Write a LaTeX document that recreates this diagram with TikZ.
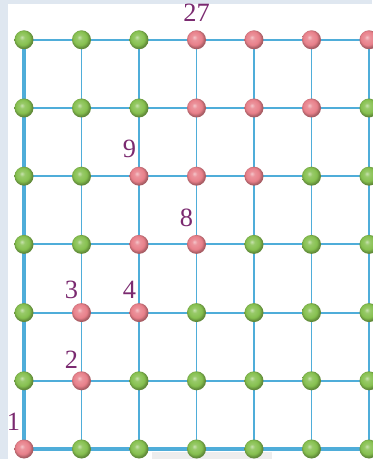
\documentclass[tikz,border=0pt]{standalone}
\usepackage{fontspec}
\setmainfont{Liberation Serif}
\usetikzlibrary{positioning}

\definecolor{gridblue}{HTML}{4FADD9}
\definecolor{ballgreen}{HTML}{86C04F}
\definecolor{ballred}{HTML}{E8808A}
\definecolor{numpurple}{HTML}{7B2A70}
\definecolor{bgray}{HTML}{DFE7F0}
\definecolor{smudge}{HTML}{EDEDED}
\colorlet{ballc}{ballgreen}

\pgfdeclareradialshading[ballc]{softball}{\pgfqpoint{-6bp}{7bp}}{%
  color(0bp)=(ballc!45!white); color(7bp)=(ballc!85!white);
  color(18bp)=(ballc); color(25bp)=(ballc!72!black);
  color(50bp)=(ballc!60!black)}

\begin{document}
\begin{tikzpicture}[
  x=1.15cm, y=1.364cm,
  font=\fontsize{15}{18}\selectfont,
  ball/.style  = {circle, inner sep=0pt, minimum size=0.38cm, shading=softball},
  lnk/.style   = {gridblue, line width=1.1pt},
  rim/.style   = {gridblue, line width=1.8pt},
  num/.style   = {text=numpurple, inner sep=0pt}
]

% frame and page
\useasboundingbox (-0.4174,-0.1466) rectangle (6.0522,6.5836);
\fill[bgray] (-0.4174,-0.1466) rectangle (6.0522,6.5836);
\fill[white] (-0.278,-0.1466) rectangle (6.0522,6.525);
\fill[smudge] (2.226,-0.1466) rectangle (4.313,-0.044);

% lattice points
\foreach \r in {0,...,6}
  \foreach \c in {0,...,6}
    \coordinate (p-\c-\r) at (\c,\r);

% grid lines
\foreach \r in {1,...,6}
  \draw[lnk] (p-0-\r) -- (p-6-\r);
\foreach \c in {1,...,6}
  \draw[lnk] (p-\c-0) -- (p-\c-6);
\draw[rim] (p-0-6) -- (p-0-0) -- (p-6-0);

% balls: red between lo and hi on each row
\foreach \r/\lo/\hi in {0/0/0, 1/1/1, 2/1/2, 3/2/3, 4/2/4, 5/3/5, 6/3/6}
  \foreach \c in {0,...,6}{
    \ifnum\c<\lo \colorlet{ballc}{ballgreen}\else
      \ifnum\c>\hi \colorlet{ballc}{ballgreen}\else \colorlet{ballc}{ballred}\fi
    \fi
    \node[ball] (n-\c-\r) at (p-\c-\r) {};
  }

% numbers
\node[num] (t27) at (3.0,6.40)    {27};
\node[num] (t9)  at (1.835,4.406) {9};
\node[num] (t8)  at (2.826,3.394) {8};
\node[num] (t3)  at (0.826,2.331) {3};
\node[num] (t4)  at (1.835,2.331) {4};
\node[num] (t2)  at (0.826,1.312) {2};
\node[num] (t1)  at (-0.183,0.403) {1};

\end{tikzpicture}
\end{document}
